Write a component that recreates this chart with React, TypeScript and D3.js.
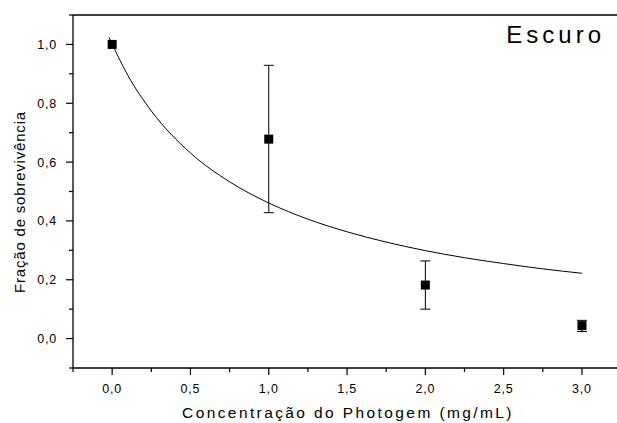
import React from "react";
import * as d3 from "d3";

const concentrations = [0, 1, 2, 3];
const survival = [1.0, 0.678, 0.182, 0.044];
const errLow = [1.0, 0.428, 0.1, 0.024];
const errHigh = [1.0, 0.929, 0.264, 0.062];

const fitX = [-0.02, 0.1, 0.25, 0.5, 0.75, 1.0, 1.25, 1.5, 1.75, 2.0, 2.25, 2.5, 2.75, 3.0];
const fitY = [1.024, 0.895, 0.774, 0.631, 0.533, 0.461, 0.406, 0.363, 0.328, 0.299, 0.275, 0.255, 0.237, 0.222];

const xMajor = [0, 0.5, 1, 1.5, 2, 2.5, 3];
const xMinor = [-0.25, 0.25, 0.75, 1.25, 1.75, 2.25, 2.75, 3.25];
const yMajor = [0, 0.2, 0.4, 0.6, 0.8, 1.0];
const yMinor = [-0.1, 0.1, 0.3, 0.5, 0.7, 0.9, 1.1];

const fmt = (v: number) => v.toFixed(1).replace(".", ",");

export default function App() {
  const W = 617, H = 423;
  const left = 73, top = 15, bottom = 368;
  const x = d3.scaleLinear().domain([-0.25, 3.25]).range([left, left + 3.5 * 156.6]);
  const y = d3.scaleLinear().domain([-0.1, 1.1]).range([bottom, top]);
  const line = d3.line<number>().x((d, i) => x(fitX[i])).y((d) => y(d)).curve(d3.curveMonotoneX);
  const fontStyle = { fontFamily: "'Liberation Sans', Arial, Helvetica, sans-serif" };
  return (
    <svg width={W} height={H} style={{ position: "absolute", left: 0, top: 0, background: "#fff", ...fontStyle }}>
      <rect x={0} y={0} width={W} height={H} fill="#fff" />
      <line x1={left} x2={W} y1={top} y2={top} stroke="#000" strokeWidth={1.3} />
      <line x1={left} x2={W} y1={bottom} y2={bottom} stroke="#000" strokeWidth={1.3} />
      <line x1={left} x2={left} y1={top} y2={bottom} stroke="#000" strokeWidth={1.3} />
      {xMajor.map((v) => (
        <g key={"xm" + v}>
          <line x1={x(v)} x2={x(v)} y1={bottom} y2={bottom + 7} stroke="#000" strokeWidth={1.2} />
          <text x={x(v)} y={393} fontSize={12.5} textAnchor="middle" letterSpacing={0.8} style={fontStyle}>{fmt(v)}</text>
        </g>
      ))}
      {xMinor.map((v) => (
        <line key={"xn" + v} x1={x(v)} x2={x(v)} y1={bottom} y2={bottom + 4} stroke="#000" strokeWidth={1.2} />
      ))}
      {yMajor.map((v) => (
        <g key={"ym" + v}>
          <line x1={left - 7} x2={left} y1={y(v)} y2={y(v)} stroke="#000" strokeWidth={1.2} />
          <text x={57} y={y(v) + 4.5} fontSize={12.5} textAnchor="end" letterSpacing={0.8} style={fontStyle}>{fmt(v)}</text>
        </g>
      ))}
      {yMinor.map((v) => (
        <line key={"yn" + v} x1={left - 4} x2={left} y1={y(v)} y2={y(v)} stroke="#000" strokeWidth={1.2} />
      ))}
      <path d={line(fitY) || ""} fill="none" stroke="#000" strokeWidth={1} />
      {concentrations.map((c, i) =>
        errHigh[i] - errLow[i] > 0.001 ? (
          <g key={"e" + i} stroke="#000" strokeWidth={1}>
            <line x1={x(c)} x2={x(c)} y1={y(errLow[i])} y2={y(errHigh[i])} />
            <line x1={x(c) - 5} x2={x(c) + 5} y1={y(errLow[i])} y2={y(errLow[i])} />
            <line x1={x(c) - 5} x2={x(c) + 5} y1={y(errHigh[i])} y2={y(errHigh[i])} />
          </g>
        ) : null
      )}
      {concentrations.map((c, i) => (
        <rect key={"p" + i} x={x(c) - 4.5} y={y(survival[i]) - 4.5} width={9} height={9} fill="#000" />
      ))}
      <text x={348} y={418} fontSize={15.5} textAnchor="middle" letterSpacing={2.4} style={fontStyle}>Concentração do Photogem (mg/mL)</text>
      <text transform={`translate(25,202) rotate(-90)`} fontSize={15} textAnchor="middle" letterSpacing={0.8} style={fontStyle}>Fração de sobrevivência</text>
      <text x={605} y={43} fontSize={24} textAnchor="end" letterSpacing={4} style={fontStyle}>Escuro</text>
    </svg>
  );
}
